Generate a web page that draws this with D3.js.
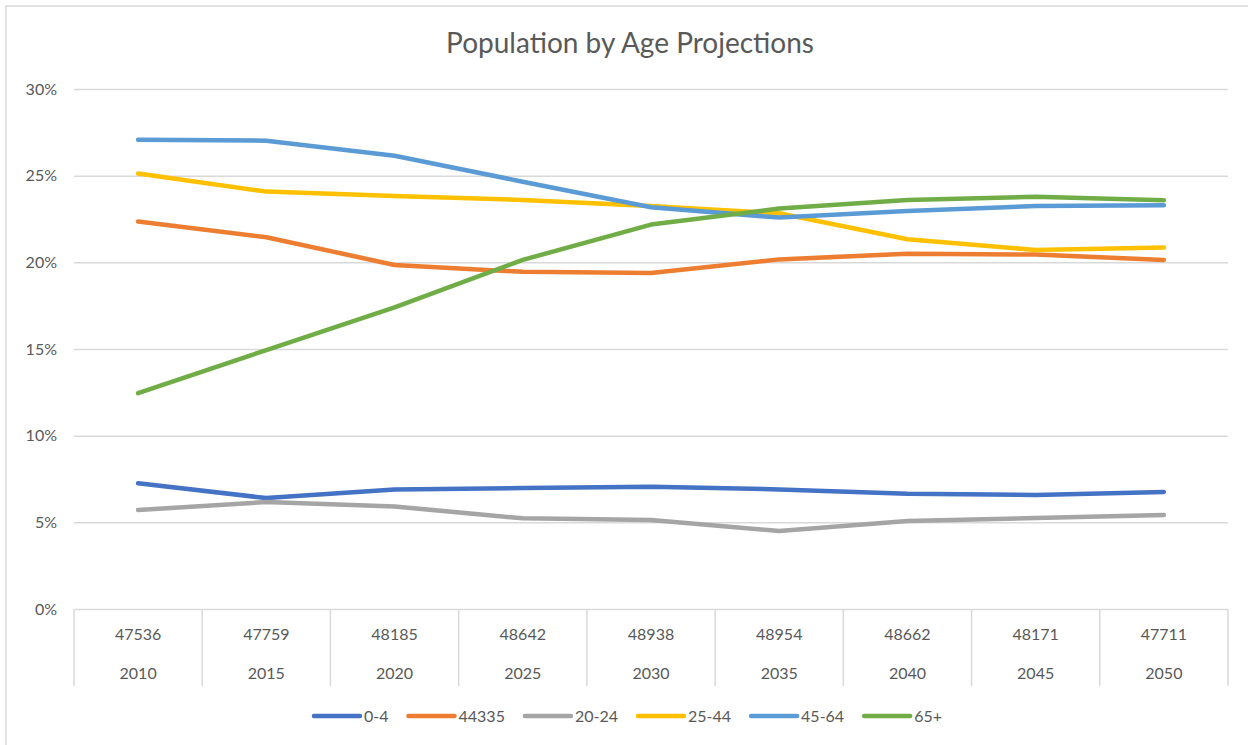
<!DOCTYPE html>
<html>

<head>
  <meta charset="UTF-8">
  <title>Population by Age Projections</title>
  <style>
    body { margin: 0; background: #fff; }
    text { font-family: Lato, "Open Sans", sans-serif; fill: #595959; }
  </style>
</head>

<body>
  <div class="svg-zone"></div>
  <script src="https://cdn.jsdelivr.net/npm/d3@7/dist/d3.min.js"></script>
  <script type="text/javascript">
  // categories: population total + year (two-level axis)
  var years = ["2010", "2015", "2020", "2025", "2030", "2035", "2040", "2045", "2050"];
  var totals = ["47536", "47759", "48185", "48642", "48938", "48954", "48662", "48171", "47711"];
  var seriesNames = ["0-4", "44335", "20-24", "25-44", "45-64", "65+"];
  var yTicks = [0, 0.05, 0.10, 0.15, 0.20, 0.25, 0.30];

  // shares
  var age0to4   = [0.0725, 0.0640, 0.0690, 0.0698, 0.0706, 0.0690, 0.0665, 0.0658, 0.0675];
  var age5to19  = [0.2235, 0.2145, 0.1985, 0.1945, 0.1938, 0.2017, 0.2050, 0.2045, 0.2014];
  var age20to24 = [0.0571, 0.0617, 0.0592, 0.0523, 0.0514, 0.0450, 0.0508, 0.0525, 0.0542];
  var age25to44 = [0.2512, 0.2408, 0.2383, 0.2360, 0.2325, 0.2283, 0.2133, 0.2071, 0.2085];
  var age45to64 = [0.2707, 0.2702, 0.2615, 0.2465, 0.2318, 0.2258, 0.2296, 0.2325, 0.2329];
  var age65plus = [0.1245, 0.1494, 0.1740, 0.2014, 0.2218, 0.2310, 0.2360, 0.2378, 0.2358];

  var seriesValues = [age0to4, age5to19, age20to24, age25to44, age45to64, age65plus];
  var colors = ["#4472C4", "#ED7D31", "#A5A5A5", "#FFC000", "#5B9BD5", "#70AD47"];

  var width = 1248, height = 745;
  var plotLeft = 74, plotRight = 1228, plotTop = 89, plotBottom = 609;

  var svg = d3.select(".svg-zone").append("svg")
    .attr("width", width)
    .attr("height", height);

  // outer chart frame
  svg.append("rect")
    .attr("x", 6).attr("y", 6)
    .attr("width", width).attr("height", height)
    .attr("fill", "none")
    .attr("stroke", "#d9d9d9")
    .attr("stroke-width", 1.5);

  svg.append("text")
    .attr("x", 630).attr("y", 53)
    .attr("text-anchor", "middle")
    .style("font-size", "28px")
    .text("Population by Age Projections");

  var x = d3.scaleBand()
    .domain(years)
    .range([plotLeft, plotRight]);
  var y = d3.scaleLinear()
    .domain([0, 0.30])
    .range([plotBottom, plotTop]);

  // gridlines + y labels
  var yAxis = svg.append("g")
    .attr("transform", "translate(" + plotLeft + ",0)")
    .call(d3.axisLeft(y).tickValues(yTicks).tickFormat(d3.format(".0%"))
      .tickSize(-(plotRight - plotLeft)).tickPadding(17));
  yAxis.select(".domain").remove();
  yAxis.selectAll("line").attr("stroke", "#d9d9d9").attr("stroke-width", 1.5);
  yAxis.selectAll("text")
    .attr("fill", "#595959")
    .style("font-family", "Lato, 'Open Sans', sans-serif")
    .style("font-size", "16px");

  // two-level category axis
  var xAxis = svg.append("g");
  var bounds = years.map(function (d) { return x(d); }).concat([plotRight]);
  xAxis.selectAll(".sep")
    .data(bounds)
    .enter().append("line")
    .attr("x1", function (d) { return d; })
    .attr("x2", function (d) { return d; })
    .attr("y1", plotBottom)
    .attr("y2", 686)
    .attr("stroke", "#d9d9d9")
    .attr("stroke-width", 1.5);
  xAxis.selectAll(".tot")
    .data(totals)
    .enter().append("text")
    .attr("x", function (d, i) { return x(years[i]) + x.bandwidth() / 2; })
    .attr("y", 640)
    .attr("text-anchor", "middle")
    .style("font-size", "16px")
    .text(function (d) { return d; });
  xAxis.selectAll(".yr")
    .data(years)
    .enter().append("text")
    .attr("x", function (d) { return x(d) + x.bandwidth() / 2; })
    .attr("y", 679)
    .attr("text-anchor", "middle")
    .style("font-size", "16px")
    .text(function (d) { return d; });

  var line = d3.line()
    .x(function (d, i) { return x(years[i]) + x.bandwidth() / 2; })
    .y(function (d) { return y(d); });

  svg.append("g").selectAll("path")
    .data(seriesValues)
    .enter().append("path")
    .attr("d", line)
    .attr("fill", "none")
    .attr("stroke", function (d, i) { return colors[i]; })
    .attr("stroke-width", 4.5)
    .attr("stroke-linecap", "round")
    .attr("stroke-linejoin", "round");

  // legend
  var legend = svg.append("g");
  var lx = 0;
  seriesNames.forEach(function (name, i) {
    var item = legend.append("g").attr("transform", "translate(" + lx + ",0)");
    item.append("line")
      .attr("x1", 0).attr("x2", 46)
      .attr("y1", 0).attr("y2", 0)
      .attr("stroke", colors[i])
      .attr("stroke-width", 4.5)
      .attr("stroke-linecap", "round");
    var t = item.append("text")
      .attr("x", 50).attr("y", 5.5)
      .style("font-size", "16px")
      .text(name);
    lx += 50 + t.node().getComputedTextLength() + 20;
  });
  legend.attr("transform", "translate(" + (628 - (lx - 20) / 2) + ",716)");

  </script>

</body>

</html>
